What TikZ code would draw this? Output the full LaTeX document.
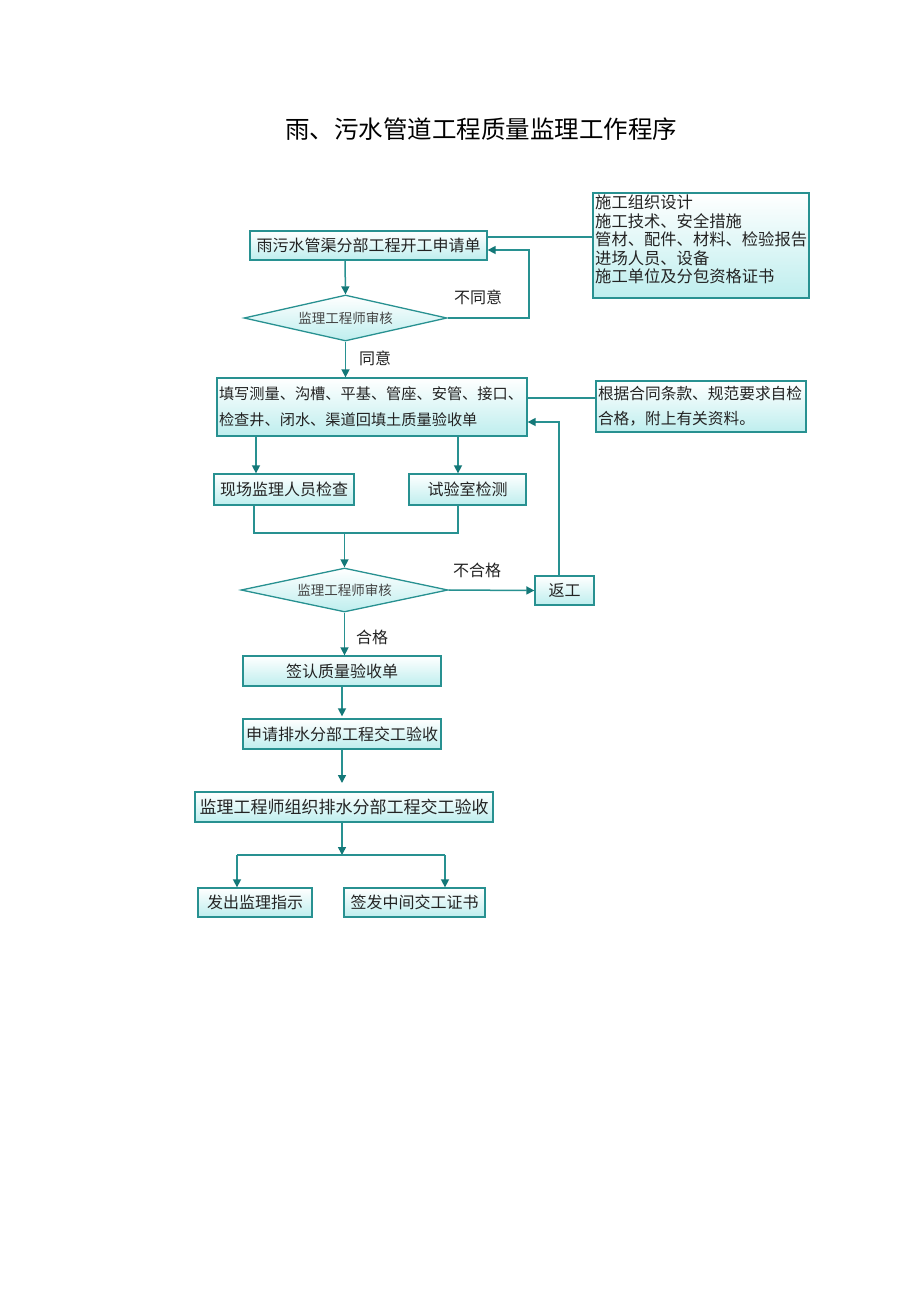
\documentclass[tikz,border=0pt]{standalone}
\usepackage{fontspec}
\setmainfont{Noto Sans CJK SC}
\usetikzlibrary{arrows.meta,shapes.geometric}
\definecolor{edgec}{RGB}{40,145,145}
\definecolor{arrc}{RGB}{20,120,120}
\definecolor{fillc}{RGB}{190,238,238}
\definecolor{txtc}{RGB}{35,35,35}
\begin{document}
\begin{tikzpicture}[x=1pt,y=-1pt,
  box/.style={draw=edgec, line width=1.3pt, top color=white, bottom color=fillc, inner sep=0pt, text=txtc, font=\fontsize{16}{19}\selectfont},
  dia/.style={diamond, shape aspect=4.4, draw=edgec, line width=1.3pt, top color=white, bottom color=fillc, inner sep=0pt, text=txtc!85, font=\fontsize{13.5}{16}\selectfont},
  lbl/.style={text=txtc, font=\fontsize{16}{19}\selectfont, inner sep=0pt},
  conn/.style={draw=edgec, line width=1.5pt},
  arr/.style={conn, -{Triangle[length=8pt,width=8pt,color=arrc]}}
]
\useasboundingbox (0,0) rectangle (920,1301);
\fill[white] (0,0) rectangle (920,1301);

\node[text=black, font=\fontsize{24.5}{28}\selectfont, inner sep=0pt] (title) at (481,129) {雨、污水管道工程质量监理工作程序};

% top boxes
\node[box, minimum width=237pt, minimum height=29pt] (b1) at (368.5,245.5) {雨污水管渠分部工程开工申请单};
\node[box, minimum width=216pt, minimum height=105pt] (r1) at (701,245.5) {};
\node[lbl, anchor=north west, align=left, font=\fontsize{16.3}{18.5}\selectfont] (r1t) at (595,195) {施工组织设计\\施工技术、安全措施\\管材、配件、材料、检验报告\\进场人员、设备\\施工单位及分包资格证书};

\node[dia, minimum width=203pt, minimum height=46pt] (d1) at (345.5,318) {监理工程师审核};
\node[lbl] (l1) at (478,297) {不同意};
\node[lbl] (l2) at (375,358) {同意};

\node[box, minimum width=310pt, minimum height=58pt, align=left, text width=306pt, font=\fontsize{15.2}{26}\selectfont] (b2) at (372,407) {填写测量、沟槽、平基、管座、安管、接口、\\检查井、闭水、渠道回填土质量验收单};
\node[box, minimum width=210pt, minimum height=51pt, align=left, text width=206pt, font=\fontsize{15.7}{25}\selectfont] (r2) at (701,406.5) {根据合同条款、规范要求自检\\合格，附上有关资料。};

\node[box, minimum width=140pt, minimum height=31pt] (c1) at (284,489.5) {现场监理人员检查};
\node[box, minimum width=117pt, minimum height=31pt] (c2) at (467.5,489.5) {试验室检测};

\node[dia, minimum width=207pt, minimum height=44pt] (d2) at (344.5,590) {监理工程师审核};
\node[box, minimum width=59pt, minimum height=29pt] (rw) at (564.5,590.5) {返工};
\node[lbl] (l3) at (477,570) {不合格};
\node[lbl] (l4) at (372,637) {合格};

\node[box, minimum width=198pt, minimum height=30pt] (s1) at (342,671) {签认质量验收单};
\node[box, minimum width=198pt, minimum height=30pt] (s2) at (342,734) {申请排水分部工程交工验收};
\node[box, minimum width=298pt, minimum height=30pt, font=\fontsize{17}{20}\selectfont] (s3) at (344,807) {监理工程师组织排水分部工程交工验收};

\node[box, minimum width=114pt, minimum height=29pt] (f1) at (255,902.5) {发出监理指示};
\node[box, minimum width=141pt, minimum height=29pt] (f2) at (414.5,902.5) {签发中间交工证书};

% connectors
\draw[conn] (r1.west |- 0,237) -- (b1.east |- 0,237);
\draw[arr] (b1.south -| 345,0) -- (d1.north);
\draw[arr] (d1.east) -- (529,318) |- (b1.east |- 0,250);
\draw[arr] (d1.south) -- (b2.north -| d1.south);

\draw[conn] (r2.west |- 0,398) -- (b2.east |- 0,398);
\draw[arr] (b2.south -| 256,0) -- (c1.north -| 256,0);
\draw[arr] (b2.south -| 458,0) -- (c2.north -| 458,0);

\coordinate (m1) at (254,533);
\coordinate (m2) at (458,533);
\draw[conn] (c1.south -| m1) -- (m1) -- (m2) -- (c2.south -| m2);
\draw[arr] (d2.north |- m1) -- (d2.north);

\draw[arr] (d2.east) -- (rw.west);
\draw[arr] (rw.north -| 559,0) -- (559,422) -- (b2.east |- 0,422);

\draw[arr] (d2.south) -- (s1.north -| d2.south);
\draw[arr] (s1.south) -- ([yshift=2pt]s2.north);
\draw[arr] (s2.south) -- (s2.south |- 0,783);

\coordinate (jn) at (342,855);
\coordinate (jl) at (237,855);
\coordinate (jr) at (445,855);
\draw[arr] (s3.south -| jn) -- (jn);
\draw[conn] (jl) -- (jr);
\draw[arr] (jl) -- (f1.north -| jl);
\draw[arr] (jr) -- (f2.north -| jr);
\end{tikzpicture}
\end{document}
